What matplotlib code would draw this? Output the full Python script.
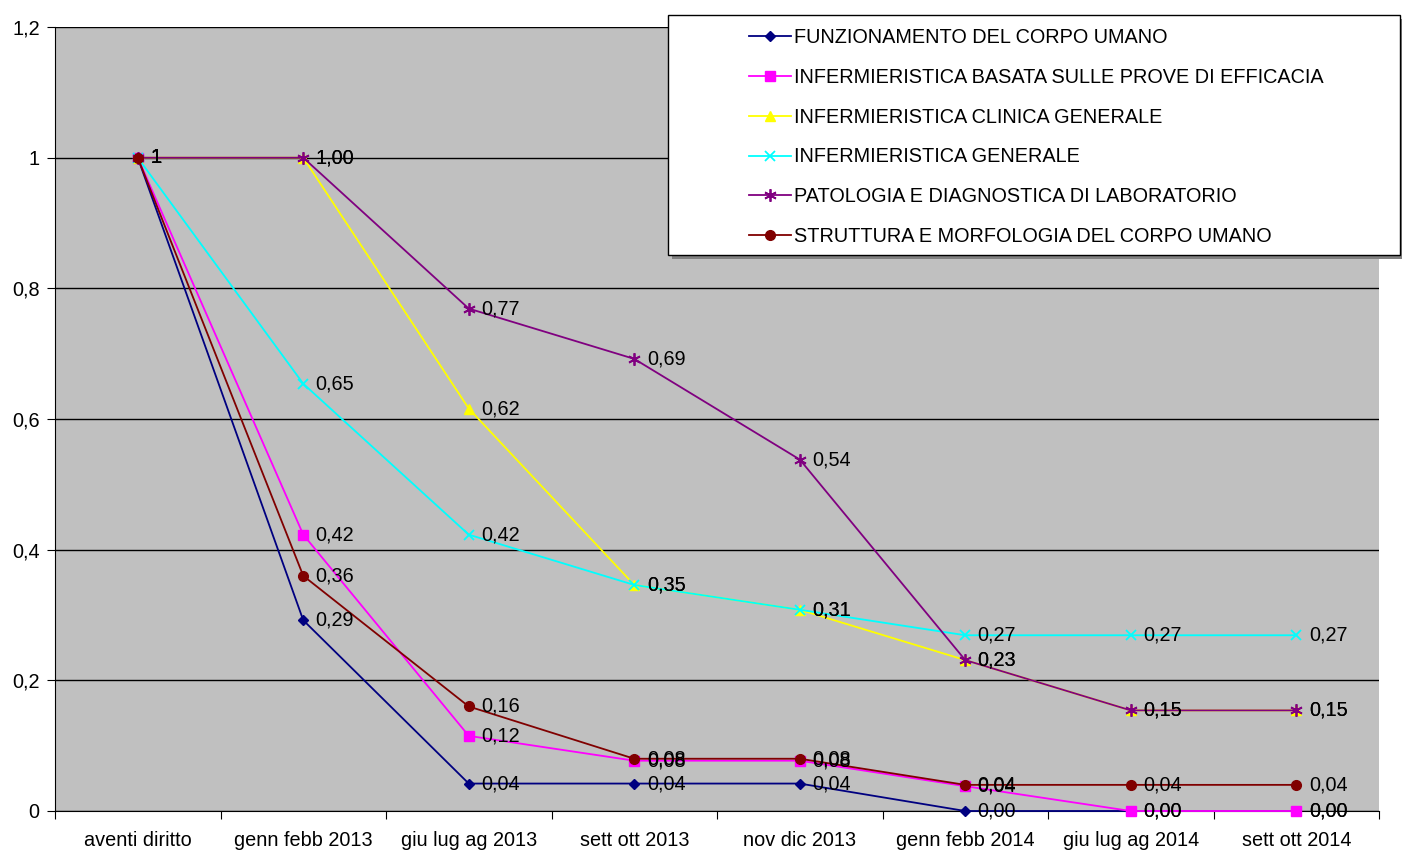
import matplotlib
matplotlib.use("Agg")
import matplotlib.pyplot as plt
from matplotlib.patches import Rectangle

plt.rcParams['font.family'] = ['Liberation Sans', 'DejaVu Sans']

categories = ["aventi diritto", "genn febb 2013", "giu lug ag 2013", "sett ott 2013",
              "nov dic 2013", "genn febb 2014", "giu lug ag 2014", "sett ott 2014"]

series_names = ["FUNZIONAMENTO DEL CORPO UMANO",
                "INFERMIERISTICA BASATA SULLE PROVE DI EFFICACIA",
                "INFERMIERISTICA CLINICA GENERALE",
                "INFERMIERISTICA GENERALE",
                "PATOLOGIA E DIAGNOSTICA DI LABORATORIO",
                "STRUTTURA E MORFOLOGIA DEL CORPO UMANO"]

funzionamento = [1, 0.292, 0.042, 0.042, 0.042, 0.0, 0.0, 0.0]
inf_basata = [1, 0.423, 0.115, 0.077, 0.077, 0.038, 0.0, 0.0]
inf_clinica = [1, 1.0, 0.616, 0.346, 0.308, 0.231, 0.154, 0.154]
inf_generale = [1, 0.654, 0.423, 0.346, 0.308, 0.269, 0.269, 0.269]
patologia = [1, 1.0, 0.769, 0.692, 0.538, 0.231, 0.154, 0.154]
struttura = [1, 0.36, 0.16, 0.08, 0.08, 0.04, 0.04, 0.04]

y_ticks = [0, 0.2, 0.4, 0.6, 0.8, 1, 1.2]
y_tick_labels = ["0", "0,2", "0,4", "0,6", "0,8", "1", "1,2"]

all_series = [funzionamento, inf_basata, inf_clinica, inf_generale, patologia, struttura]
colors = ["#000080", "#FF00FF", "#FFFF00", "#00FFFF", "#800080", "#800000"]
markers = ["D", "s", "^", "x", (6, 2, 0), "o"]
msizes = [5, 7, 7, 7, 9, 7]

FS = 14.3

fig = plt.figure(figsize=(14.02, 8.51), dpi=100)
ax = fig.add_axes([55/1402, 1-811/851, (1379-55)/1402, (811-27)/851])
ax.set_facecolor("#C0C0C0")

x = list(range(len(categories)))
handles = []
for vals, name, c, m, ms in zip(all_series, series_names, colors, markers, msizes):
    mew = 1.3 if m in ("x",) or isinstance(m, tuple) else 1
    h, = ax.plot(x, vals, color=c, marker=m, markersize=ms, linewidth=1.3,
                 markeredgecolor=c, markerfacecolor=c, markeredgewidth=mew,
                 label=name, clip_on=False, zorder=3)
    handles.append(h)
    for i, v in enumerate(vals):
        lab = "1" if i == 0 else f"{v:.2f}".replace(".", ",")
        ax.annotate(lab, (i, v), xytext=(9, 0), textcoords="offset points",
                    va="center", ha="left", fontsize=FS, color="black",
                    zorder=4, annotation_clip=False)

ax.set_xlim(-0.5, len(categories) - 0.5)
ax.set_ylim(0, 1.2)
ax.set_yticks(y_ticks)
ax.set_yticklabels(y_tick_labels, fontsize=FS)
ax.set_xticks([i + 0.5 for i in range(-1, len(categories))], minor=False)
ax.set_xticklabels([])
ax.set_xticks(x, minor=True)
ax.set_xticklabels(categories, minor=True, fontsize=FS)
ax.tick_params(axis="x", which="minor", length=0, pad=14.5)
ax.tick_params(axis="x", which="major", length=6, direction="out")
ax.tick_params(axis="y", length=6, direction="out", pad=5)
ax.yaxis.grid(True, color="black", linewidth=1)
ax.set_axisbelow(True)
for s in ["top", "right"]:
    ax.spines[s].set_visible(False)
ax.spines["left"].set_color("black")
ax.spines["bottom"].set_color("black")

# legend box with shadow
fw, fh = 1402, 851
shadow = Rectangle(((668+4)/fw, 1-(255+4)/fh), (1400-668)/fw, (255-15)/fh,
                   transform=fig.transFigure, facecolor="#808080", edgecolor="none", zorder=5)
box = Rectangle((668/fw, 1-255/fh), (1400-668)/fw, (255-15)/fh,
                transform=fig.transFigure, facecolor="white", edgecolor="black",
                linewidth=1, zorder=6)
fig.patches.extend([shadow, box])

leg = fig.legend(handles, series_names, loc="upper left",
                 bbox_to_anchor=(733/fw, 1-12/fh), frameon=False, fontsize=FS,
                 handlelength=2.1, handletextpad=0.15, labelspacing=1.05,
                 borderpad=0.3)
leg.set_zorder(7)

fig.savefig("out.png", dpi=100)
